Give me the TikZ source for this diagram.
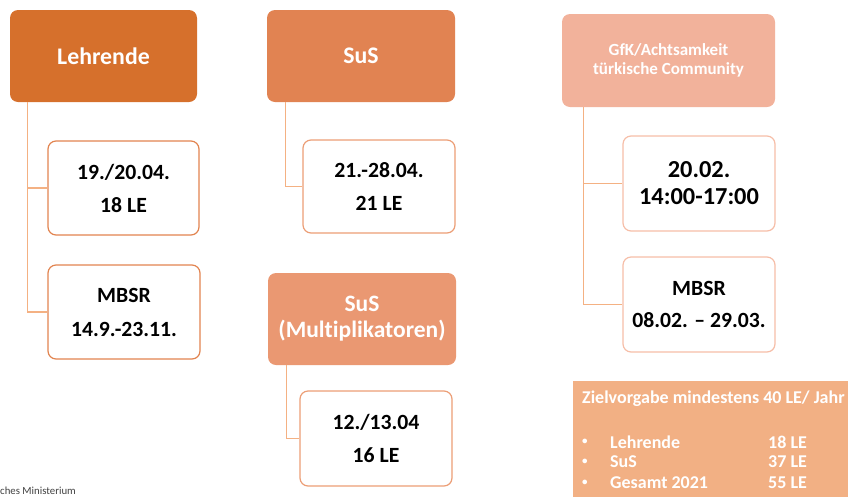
\documentclass[tikz,border=0pt]{standalone}
\usepackage{fontspec}
\setmainfont[Ligatures=NoCommon]{Carlito}
\definecolor{lehrfill}{RGB}{214,112,44}
\definecolor{susfill}{RGB}{225,131,82}
\definecolor{multfill}{RGB}{234,152,114}
\definecolor{gfkfill}{RGB}{242,178,155}
\definecolor{zielfill}{RGB}{242,176,132}
\definecolor{linecol}{RGB}{244,177,131}
\definecolor{edgedark}{RGB}{226,132,80}
\definecolor{edgemid}{RGB}{236,158,118}
\definecolor{edgelight}{RGB}{246,190,168}

\begin{document}
\begin{tikzpicture}[x=1pt,y=-1pt,
  head/.style={rounded corners=8pt,inner sep=0pt,align=center,text=white,font=\bfseries},
  datebox/.style={draw,line width=1.2pt,fill=white,rounded corners=8pt,inner sep=0pt,align=center,font=\bfseries},
  conn/.style={draw=linecol,line width=1.2pt}]
  \useasboundingbox (0,0) rectangle (848,496);
  \node[head,fill=lehrfill,minimum width=187pt,minimum height=92pt,font=\bfseries\fontsize{23.8}{28}\selectfont] (lehr) at (103.5,56) {Lehrende};
  \node[head,fill=susfill,minimum width=188pt,minimum height=92pt,font=\bfseries\fontsize{23.8}{28}\selectfont] (sus) at (361,56) {SuS};
  \node[head,fill=gfkfill,minimum width=213pt,minimum height=93pt,font=\bfseries\fontsize{17}{19}\selectfont] (gfk) at (668.5,60.5) {GfK/Achtsamkeit\\türkische Community};
  \node[head,fill=multfill,minimum width=188pt,minimum height=92pt,font=\bfseries\fontsize{23.5}{26}\selectfont] (mult) at (362,319) {SuS\\(Multiplikatoren)};
  \node[datebox,draw=edgedark,minimum width=151pt,minimum height=94pt,font=\bfseries\fontsize{21.7}{33}\selectfont] (l1) at (123.5,188) {19./20.04.\\18 LE};
  \node[datebox,draw=edgedark,minimum width=152pt,minimum height=94pt,font=\bfseries\fontsize{21.7}{34}\selectfont] (l2) at (124,312) {MBSR\\14.9.-23.11.};
  \node[datebox,draw=edgemid,minimum width=152pt,minimum height=93pt,font=\bfseries\fontsize{21.7}{33}\selectfont] (s1) at (379,186.5) {21.-28.04.\\21 LE};
  \node[datebox,draw=edgemid,minimum width=152pt,minimum height=95pt,font=\bfseries\fontsize{21.7}{33}\selectfont] (m1) at (376,438.5) {12./13.04\\16 LE};
  \node[datebox,draw=edgelight,minimum width=152pt,minimum height=95pt,font=\bfseries\fontsize{24.4}{27}\selectfont] (g1) at (699,183.5) {20.02.\\14:00-17:00};
  \node[datebox,draw=edgelight,minimum width=152pt,minimum height=95pt,font=\bfseries\fontsize{21.7}{32}\selectfont] (g2) at (699,304.5) {MBSR\\08.02. – 29.03.};
  \draw[conn] ([xshift=18pt]lehr.south west) |- (l1.west);
  \draw[conn] ([xshift=18pt]lehr.south west) |- (l2.west);
  \draw[conn] ([xshift=19pt]sus.south west) |- (s1.west);
  \draw[conn] ([xshift=19pt]mult.south west) |- (m1.west);
  \draw[conn] ([xshift=22pt]gfk.south west) |- (g1.west);
  \draw[conn] ([xshift=22pt]gfk.south west) |- (g2.west);
  \fill[zielfill] (573,381) rectangle (860,510);
  \node[anchor=west,text=white,font=\bfseries\fontsize{18}{20}\selectfont,inner sep=0pt] (ziel) at (582,399) {Zielvorgabe mindestens 40 LE/ Jahr};
  \foreach \name/\txt/\val/\yy in {z1/Lehrende/18 LE/442,z2/SuS/37 LE/462,z3/Gesamt 2021/55 LE/483}{
    \node[anchor=west,text=white,font=\bfseries\fontsize{11}{13}\selectfont,inner sep=0pt] (\name b) at (582,\yy) {•};
    \node[anchor=west,text=white,font=\bfseries\fontsize{18}{20}\selectfont,inner sep=0pt] (\name t) at (610,\yy) {\txt};
    \node[anchor=west,text=white,font=\bfseries\fontsize{18}{20}\selectfont,inner sep=0pt] (\name v) at (768,\yy) {\val};
  }
  \node[anchor=west,text=black!75,font=\fontsize{10.8}{12}\selectfont,inner sep=0pt] (mini) at (0,491) {ches Ministerium};
\end{tikzpicture}
\end{document}
